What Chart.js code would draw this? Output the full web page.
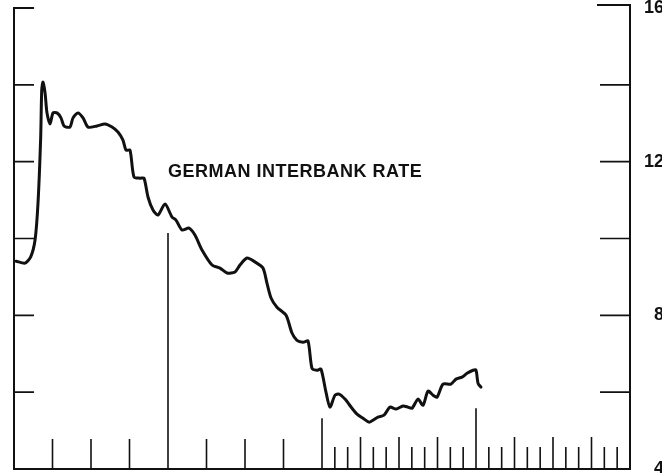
<!DOCTYPE html>
<html lang="en">
<head>
    <meta charset="UTF-8">
    <title>German Interbank Rate</title>
    <script src="https://cdn.jsdelivr.net/npm/chart.js"></script>
    <style>
        body { margin: 0; overflow: hidden; background: #fff; }
        #wrap { width: 680px; height: 473px; }
    </style>
</head>
<body>
    <div id="wrap">
        <canvas id="rateChart" width="680" height="473"></canvas>
    </div>

    <script>
        // time position (months from start of chart) and rate in percent
        const months = [0.16, 0.86, 1.30, 1.64, 1.87, 2.08, 2.16, 2.26, 2.42, 2.57, 2.81, 3.04, 3.35, 3.66, 3.90,
            4.36, 4.60, 4.99, 5.38, 5.77, 6.47, 7.09, 7.64, 8.10, 8.49, 8.73, 9.04, 9.35, 9.82, 10.13,
            10.44, 10.83, 11.22, 11.77, 12.31, 12.62, 13.09, 13.64, 14.10, 14.65, 15.43, 16.05, 16.60, 17.22,
            17.61, 18.16, 18.78, 19.40, 19.71, 20.03, 20.49, 21.20, 21.66, 22.05, 22.52, 22.91, 23.22, 23.61,
            23.92, 24.31, 24.62, 25.01, 25.33, 25.79, 26.34, 26.73, 27.20, 27.66, 27.97, 28.36, 28.83, 29.30,
            29.77, 30.31, 30.70, 31.01, 31.48, 31.87, 32.26, 32.65, 32.96, 33.43, 34.05, 34.44, 34.91, 35.30,
            35.77, 36.00, 36.16, 36.39];
        const rates = [9.41, 9.36, 9.52, 9.96, 10.92, 12.64, 13.86, 14.07, 13.79, 13.27, 12.98, 13.27, 13.27, 13.14, 12.93,
            12.90, 13.14, 13.27, 13.14, 12.90, 12.93, 12.98, 12.90, 12.77, 12.56, 12.30, 12.30, 11.60, 11.57, 11.57,
            11.08, 10.74, 10.61, 10.90, 10.56, 10.48, 10.22, 10.27, 10.09, 9.70, 9.31, 9.23, 9.10, 9.13,
            9.31, 9.49, 9.39, 9.23, 8.84, 8.45, 8.21, 8.00, 7.54, 7.35, 7.30, 7.33, 6.62, 6.57,
            6.60, 6.00, 5.61, 5.92, 5.95, 5.82, 5.58, 5.43, 5.32, 5.22, 5.27, 5.35, 5.40, 5.61,
            5.56, 5.64, 5.61, 5.58, 5.82, 5.66, 6.03, 5.92, 5.87, 6.21, 6.21, 6.34, 6.39, 6.49,
            6.57, 6.57, 6.23, 6.13];

        const yearStarts = [0, 12, 24, 36, 48];
        const quarterTicks = [3, 6, 9, 15, 18, 21];
        const monthTicks = [25, 26, 27, 28, 29, 30, 31, 32, 33, 34, 35, 37, 38, 39, 40, 41, 42, 43, 44, 45, 46, 47];
        const rateTicks = [6, 8, 10, 12, 14];
        const rateLabels = [4, 8, 12, 16];
        const seriesLabel = 'GERMAN INTERBANK RATE';

        const ink = '#111';

        // frame, ticks and label drawn with the chart's own scales
        const framePlugin = {
            id: 'frame',
            afterDatasetsDraw(chart) {
                const ctx = chart.ctx;
                const xs = chart.scales.x;
                const ys = chart.scales.y;
                const x0 = xs.getPixelForValue(0);
                const x1 = xs.getPixelForValue(48);
                const yTop = ys.getPixelForValue(16);
                const yBot = ys.getPixelForValue(4);

                ctx.save();
                ctx.strokeStyle = ink;
                ctx.lineCap = 'butt';

                ctx.lineWidth = 2;
                ctx.beginPath();
                ctx.moveTo(x0 + 20, yTop);
                ctx.lineTo(x0, yTop);
                ctx.lineTo(x0, yBot);
                ctx.lineTo(x1, yBot);
                ctx.lineTo(x1, yTop - 3);
                ctx.lineTo(x1 - 33, yTop - 3);
                ctx.stroke();

                ctx.lineWidth = 1.6;
                ctx.beginPath();
                rateTicks.forEach(v => {
                    const y = ys.getPixelForValue(v);
                    ctx.moveTo(x0, y);
                    ctx.lineTo(x0 + 20, y);
                    ctx.moveTo(x1, y);
                    ctx.lineTo(x1 - 30, y);
                });
                quarterTicks.forEach(m => {
                    const x = xs.getPixelForValue(m);
                    ctx.moveTo(x, yBot);
                    ctx.lineTo(x, yBot - 30);
                });
                monthTicks.forEach(m => {
                    const x = xs.getPixelForValue(m);
                    ctx.moveTo(x, yBot);
                    ctx.lineTo(x, yBot - (m % 3 === 0 ? 32 : 22));
                });
                const tops = {12: 10.14, 24: 5.32, 36: 5.58};
                yearStarts.slice(1, 4).forEach(m => {
                    const x = xs.getPixelForValue(m);
                    ctx.moveTo(x, yBot);
                    ctx.lineTo(x, ys.getPixelForValue(tops[m]));
                });
                ctx.stroke();

                ctx.fillStyle = ink;
                ctx.font = 'bold 18px "Liberation Sans", Arial, sans-serif';
                ctx.letterSpacing = '0.5px';
                ctx.textBaseline = 'alphabetic';
                ctx.textAlign = 'left';
                ctx.fillText(seriesLabel, xs.getPixelForValue(12), ys.getPixelForValue(11.6));
                ctx.restore();
            }
        };

        new Chart(document.getElementById('rateChart').getContext('2d'), {
            type: 'line',
            data: {
                datasets: [{
                    label: seriesLabel,
                    data: months.map((m, i) => ({ x: m, y: rates[i] })),
                    borderColor: ink,
                    borderWidth: 3,
                    borderJoinStyle: 'round',
                    borderCapStyle: 'round',
                    pointRadius: 0,
                    tension: 0.25,
                    fill: false,
                    yAxisID: 'y'
                }]
            },
            options: {
                responsive: false,
                devicePixelRatio: 1,
                animation: false,
                layout: { padding: { left: 14, top: 8, bottom: 4, right: 16 } },
                plugins: { legend: { display: false }, tooltip: { enabled: false } },
                scales: {
                    x: { type: 'linear', min: 0, max: 48, display: false },
                    y: { min: 4, max: 16, display: false },
                    y2: {
                        position: 'right',
                        min: 4,
                        max: 16,
                        grid: { display: false, drawTicks: false },
                        border: { display: false },
                        afterBuildTicks(scale) {
                            scale.ticks = rateLabels.map(v => ({ value: v }));
                        },
                        afterFit(scale) {
                            scale.width = 34;
                            scale.paddingTop = 0;
                            scale.paddingBottom = 0;
                        },
                        ticks: {
                            crossAlign: 'far',
                            padding: 0,
                            color: ink,
                            font: { family: '"Liberation Sans", Arial, sans-serif', size: 18, weight: 'bold' }
                        }
                    }
                }
            },
            plugins: [framePlugin]
        });
    </script>
</body>
</html>
